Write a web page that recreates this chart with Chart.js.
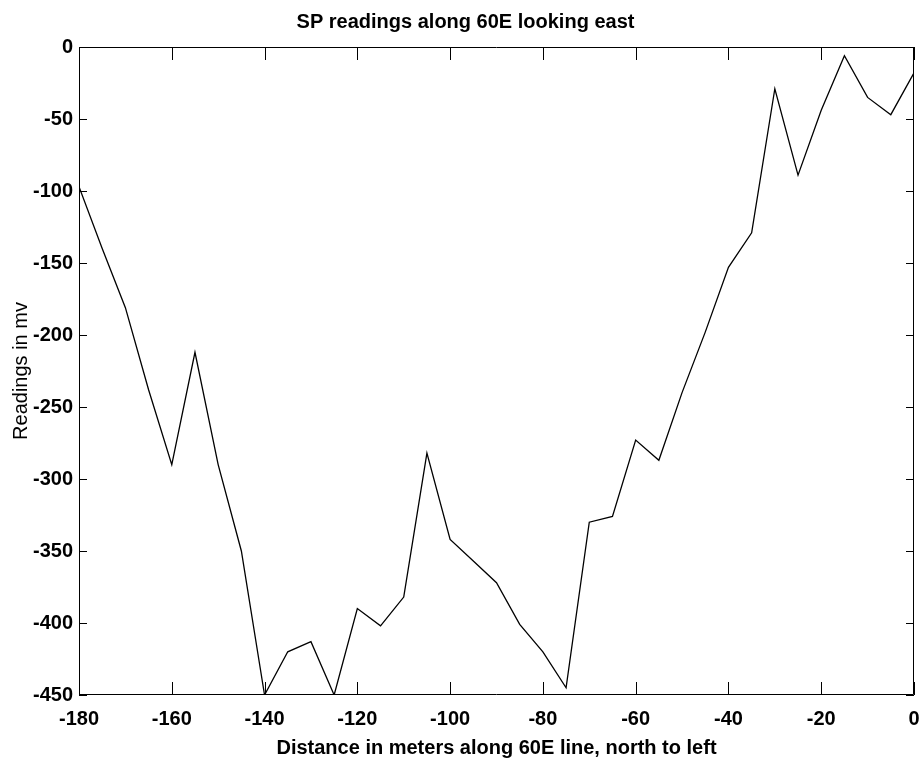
<!DOCTYPE html>
<html>
<head>
<meta charset="utf-8">
<title>SP readings along 60E</title>
<script src="https://cdn.jsdelivr.net/npm/chart.js@4"></script>
<style>
  html, body { margin: 0; padding: 0; background: #fff; }
  #wrap { width: 922px; height: 768px; }
</style>
</head>
<body>
<div id="wrap"><canvas id="chart" width="922" height="768"></canvas></div>
<script>
// distance along the 60E line (m) and SP reading at each station (mV)
const distances = [
  -180, -175, -170, -165, -160, -155, -150, -145, -140, -135,
  -130, -125, -120, -115, -110, -105, -100, -95, -90, -85,
  -80, -75, -70, -65, -60, -55, -50, -45, -40, -35,
  -30, -25, -20, -15, -10, -5, 0
];
const readings = [
  -97, -140, -181, -238, -290, -212, -290, -350, -450, -420,
  -413, -450, -390, -402, -382, -282, -342, -357, -372, -401,
  -420, -445, -330, -326, -273, -287, -240, -198, -153, -129,
  -29, -89, -44, -6, -35, -47, -18
];
const xTicks = [-180, -160, -140, -120, -100, -80, -60, -40, -20, 0];
const yTicks = [0, -50, -100, -150, -200, -250, -300, -350, -400, -450];

const chartTitle = 'SP readings along 60E looking east';
const xTitle = 'Distance in meters along 60E line, north to left';
const yTitle = 'Readings in mv';

const font = 'Arial, "Liberation Sans", Helvetica, sans-serif';

// matlab style box with tick marks pointing inwards on all four sides
const boxTicks = {
  id: 'boxTicks',
  afterDatasetsDraw(chart) {
    const { ctx, chartArea: a, scales } = chart;
    ctx.save();
    ctx.strokeStyle = '#000';
    ctx.lineWidth = 1;
    ctx.beginPath();
    ctx.rect(a.left + 0.5, a.top + 0.5, a.right - a.left - 1, a.bottom - a.top - 1);
    for (const v of xTicks) {
      const px = Math.round(scales.x.getPixelForValue(v)) + 0.5;
      ctx.moveTo(px, a.bottom);
      ctx.lineTo(px, a.bottom - 13);
      ctx.moveTo(px, a.top);
      ctx.lineTo(px, a.top + 13);
    }
    for (const v of yTicks) {
      const py = Math.round(scales.y.getPixelForValue(v)) + 0.5;
      ctx.moveTo(a.left, py);
      ctx.lineTo(a.left + 8, py);
      ctx.moveTo(a.right, py);
      ctx.lineTo(a.right - 8, py);
    }
    ctx.stroke();
    ctx.restore();
  }
};

const config = {
  type: 'scatter',
  data: {
    datasets: [{
      data: distances.map((d, i) => ({ x: d, y: readings[i] })),
      showLine: true,
      borderColor: '#000',
      borderWidth: 1.3,
      pointRadius: 0,
      tension: 0
    }]
  },
  options: {
    responsive: false,
    animation: false,
    layout: { padding: { left: 9, right: 0, top: 0, bottom: 8 } },
    plugins: {
      legend: { display: false },
      tooltip: { enabled: false },
      title: {
        display: true,
        text: chartTitle,
        color: '#000',
        font: { family: font, size: 20, weight: 'bold' },
        padding: { top: 10, bottom: 13 }
      }
    },
    scales: {
      x: {
        type: 'linear',
        min: -180,
        max: 0,
        afterBuildTicks(scale) { scale.ticks = xTicks.map(v => ({ value: v })); },
        afterFit(scale) {
          scale.height = 65;
          scale.paddingRight = 8;
        },
        ticks: {
          color: '#000',
          font: { family: font, size: 20, weight: 'bold' },
          padding: 12,
          maxRotation: 0
        },
        grid: { drawOnChartArea: false, drawTicks: false },
        border: { display: false },
        title: {
          display: true,
          text: xTitle,
          color: '#000',
          font: { family: font, size: 20, weight: 'bold' },
          padding: { top: 5, bottom: 0 }
        }
      },
      y: {
        type: 'linear',
        min: -450,
        max: 0,
        afterBuildTicks(scale) { scale.ticks = yTicks.map(v => ({ value: v })); },
        afterFit(scale) { scale.width = 70; },
        ticks: {
          color: '#000',
          font: { family: font, size: 20, weight: 'bold' },
          padding: 6
        },
        grid: { drawOnChartArea: false, drawTicks: false },
        border: { display: false },
        title: {
          display: true,
          text: yTitle,
          color: '#000',
          font: { family: font, size: 20 },
          padding: { top: 0, bottom: 2 }
        }
      }
    }
  },
  plugins: [boxTicks]
};

new Chart(document.getElementById('chart'), config);
</script>
</body>
</html>
